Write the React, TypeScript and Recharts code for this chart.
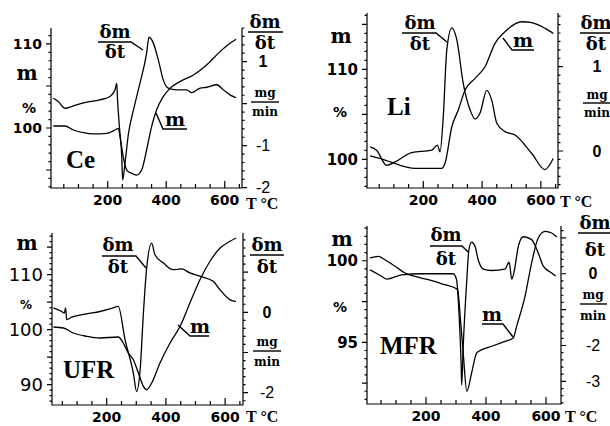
import React from 'react';
import { LineChart, Line, XAxis, YAxis } from 'recharts';

// ---- Ce ----
const ceDmT = [14, 31, 54, 83, 117, 174, 208, 225, 231, 233, 240, 248, 251, 259, 271, 288, 310, 333, 341, 356, 373, 390, 407, 436, 470, 487, 516, 538, 573, 595, 618, 639];
const ceDm = [0.13, 0.05, -0.11, -0.05, 0.02, 0.09, 0.17, 0.33, 0.48, 0.17, -0.55, -1.26, -1.82, -1.42, -0.71, -0.15, 0.48, 1.2, 1.58, 1.44, 1.04, 0.56, 0.37, 0.33, 0.33, 0.26, 0.37, 0.39, 0.45, 0.33, 0.21, 0.14];
const ceMT = [14, 54, 83, 117, 151, 197, 225, 236, 244, 253, 265, 282, 299, 316, 333, 350, 367, 390, 413, 447, 493, 538, 584, 618, 639];
const ceM = [100.24, 100.24, 99.76, 99.44, 99.29, 99.37, 99.76, 99.96, 98.57, 96.59, 95.0, 94.6, 94.4, 95.0, 97.38, 100.16, 102.14, 103.73, 104.72, 105.52, 106.31, 107.5, 109.09, 110.08, 110.56];

// ---- Li ----
const liDmT = [19, 41, 75, 104, 160, 229, 248, 257, 268, 280, 297, 314, 336, 359, 376, 393, 416, 433, 450, 478, 512, 569, 614, 642];
const liDm = [0.05, 0.01, -0.17, -0.13, -0.02, 0.01, 0.07, -0.01, 0.41, 1.2, 1.46, 1.32, 0.8, 0.49, 0.38, 0.45, 0.72, 0.6, 0.33, 0.23, 0.19, -0.03, -0.22, -0.09];
const liMT = [19, 70, 138, 172, 263, 274, 297, 319, 342, 376, 410, 444, 478, 535, 569, 614, 642];
const liM = [100.37, 99.92, 99.18, 99.0, 99.0, 99.56, 103.62, 105.48, 107.7, 109.0, 110.29, 112.89, 114.18, 115.29, 115.18, 114.55, 114.0];

// ---- UFR ----
const ufrDmT = [20, 48, 57, 61, 65, 82, 132, 177, 222, 239, 262, 290, 301, 313, 324, 335, 352, 363, 391, 425, 453, 481, 515, 560, 583, 617, 637];
const ufrDm = [0.11, 0.02, -0.02, 0.11, -0.18, -0.12, -0.04, 0.02, 0.11, 0.15, -0.68, -1.51, -1.97, -1.43, -0.02, 1.1, 1.72, 1.43, 1.23, 1.06, 1.08, 0.98, 0.9, 0.77, 0.56, 0.31, 0.27];
const ufrMT = [20, 54, 87, 132, 177, 239, 256, 273, 290, 307, 324, 335, 352, 380, 414, 448, 481, 515, 549, 583, 617, 637];
const ufrM = [100.49, 100.31, 99.4, 98.8, 98.49, 98.67, 97.58, 95.76, 94.55, 92.13, 89.71, 89.09, 90.31, 93.95, 97.58, 100.62, 104.85, 109.09, 112.44, 114.85, 116.07, 116.67];

// ---- MFR ----
const mfrDmT = [13, 52, 69, 119, 186, 291, 302, 310, 317, 319, 324, 336, 343, 352, 363, 374, 391, 419, 463, 477, 486, 494, 508, 524, 552, 574, 591, 619, 632];
const mfrDm = [0.11, -0.07, -0.15, -0.03, 0, 0, -0.17, -1.1, -2.49, -3.1, -2.03, -0.17, 0.67, 0.88, 0.77, 0.39, 0.13, 0.09, 0.13, 0.32, -0.15, 0.07, 0.77, 1.03, 0.95, 0.58, 0.21, 0.02, -0.06];
const mfrMT = [13, 41, 63, 97, 130, 163, 208, 263, 297, 306, 313, 324, 336, 352, 369, 386, 419, 463, 491, 502, 530, 552, 574, 597, 619, 636];
const mfrM = [100.17, 100.27, 100.06, 99.66, 99.25, 99.04, 98.84, 98.53, 98.33, 98.19, 96.8, 94.35, 92.0, 93.12, 94.35, 94.55, 94.76, 95.06, 95.27, 95.98, 97.82, 99.86, 101.39, 101.8, 101.7, 101.45];

// axis ticks
const xTicks = [50, 100, 150, 200, 250, 300, 350, 400, 450, 500, 550, 600, 650];
const xLabels = [200, 400, 600];

const SERIF = '"DejaVu Serif", serif';
const TIMES = '"Liberation Serif", serif';
const SANS = '"DejaVu Sans", sans-serif';
const ARIAL = '"Liberation Sans", sans-serif';
const PH = 222; // panel svg height (quadrant is 213, labels hang below)

const zip = (ts: number[], vs: number[]) => ts.map((t, i) => ({ t, v: vs[i] }));
const steps = (a: number, b: number, s: number) => {
  const out: number[] = [];
  for (let v = a; v <= b + 1e-9; v += s) out.push(Math.round(v * 1000) / 1000);
  return out;
};
const has = (arr: number[], v: number) => arr.some((a) => Math.abs(a - v) < 1e-6);

// panel layouts (plot box inside each 305x213 quadrant) and axis setup
const panels = [
  {
    key: 'ce', left: 0, top: 0, x0: 51, x1: 242, y0: 28, y1: 188,
    xDom: [6.2, 659], mDom: [92.86, 111.9], dmDom: [-2.007, 1.8],
    mData: zip(ceMT, ceM), dmData: zip(ceDmT, ceDm),
    mTicks: steps(93, 111, 1), mMajors: [95, 100, 105, 110], mLabels: [100, 110], mSize: 14, mWeight: 'bold',
    dmTicks: steps(-2, 1.8, 0.2), dmMajors: [-2, -1, 0, 1], dmLabels: [-2, -1, 1], dx: 21,
  },
  {
    key: 'li', left: 305, top: 0, x0: 62, x1: 253, y0: 13, y1: 188,
    xDom: [8.5, 658.2], mDom: [96.81, 116.26], dmDom: [-0.439, 1.637],
    mData: zip(liMT, liM), dmData: zip(liDmT, liDm),
    mTicks: steps(97, 116, 1), mMajors: [100, 105, 110, 115], mLabels: [100, 110], mSize: 15, mWeight: 'bold',
    dmTicks: steps(-0.4, 1.6, 0.1), dmMajors: [0, 1], dmLabels: [0, 1], dx: 39,
  },
  {
    key: 'ufr', left: 0, top: 213, x0: 52, x1: 243, y0: 20, y1: 192,
    xDom: [15.2, 660.5], mDom: [86.31, 117.58], dmDom: [-2.306, 1.973],
    mData: zip(ufrMT, ufrM), dmData: zip(ufrDmT, ufrDm),
    mTicks: steps(87, 117, 1), mMajors: [90, 95, 100, 105, 110, 115], mLabels: [90, 100, 110], mSize: 18, mWeight: 'normal',
    dmTicks: steps(-2.2, 1.8, 0.2), dmMajors: [-2, -1, 0, 1], dmLabels: [-2, 0], dx: 24,
  },
  {
    key: 'mfr', left: 305, top: 213, x0: 62, x1: 256, y0: 13, y1: 191,
    xDom: [3.3, 650], mDom: [91.22, 102.13], dmDom: [-3.63, 1.33],
    mData: zip(mfrMT, mfrM), dmData: zip(mfrDmT, mfrDm),
    mTicks: steps(91.5, 102, 0.5), mMajors: [92.5, 95, 97.5, 100], mLabels: [95, 100], mSize: 15, mWeight: 'bold',
    dmTicks: steps(-3.6, 1.2, 0.2), dmMajors: [-3, -2, -1, 0, 1], dmLabels: [-3, -2, 0], dx: 32,
  },
];

// label-only tick renderers (the tick marks and axis frame are drawn in the frame layer)
const XTick = (p: any) => {
  const v = p.payload.value;
  if (!has(xLabels, v)) return <g />;
  return (
    <text x={p.x} y={p.y + 17} textAnchor="middle" fontFamily={SANS} fontWeight="bold" fontSize={14} fill="#000">
      {v}
    </text>
  );
};

const leftTick = (labels: number[], size: number, weight: string) => (p: any) => {
  const v = p.payload.value;
  if (!has(labels, v)) return <g />;
  return (
    <text x={p.x - 9} y={p.y} dy="0.36em" textAnchor="end" fontFamily={SANS} fontWeight={weight} fontSize={size} fill="#000">
      {v}
    </text>
  );
};

const rightTick = (labels: number[], dx: number) => (p: any) => {
  const v = p.payload.value;
  if (!has(labels, v)) return <g />;
  return (
    <text x={p.x + dx} y={p.y} dy="0.36em" textAnchor="middle" fontFamily={ARIAL} fontWeight={v >= 0 ? 'bold' : 'normal'} fontSize={16} fill="#000">
      {v}
    </text>
  );
};

function Panel({ cfg }: any) {
  const { left, top, x0, x1, y0, y1 } = cfg;
  return (
    <div style={{ position: 'absolute', left, top }}>
      <LineChart width={305} height={PH} margin={{ top: y0, right: 0, bottom: 0, left: 0 }}>
        <XAxis
          type="number"
          dataKey="t"
          domain={cfg.xDom}
          allowDataOverflow
          ticks={xTicks}
          interval={0}
          tick={XTick}
          tickLine={false}
          tickSize={0}
          tickMargin={0}
          height={PH - y1}
          axisLine={false}
        />
        <YAxis
          yAxisId="m"
          orientation="left"
          type="number"
          width={x0}
          domain={cfg.mDom}
          allowDataOverflow
          ticks={cfg.mTicks}
          interval={0}
          tick={leftTick(cfg.mLabels, cfg.mSize, cfg.mWeight)}
          tickLine={false}
          tickSize={0}
          tickMargin={0}
          axisLine={false}
        />
        <YAxis
          yAxisId="dm"
          orientation="right"
          type="number"
          width={305 - x1}
          domain={cfg.dmDom}
          allowDataOverflow
          ticks={cfg.dmTicks}
          interval={0}
          tick={rightTick(cfg.dmLabels, cfg.dx)}
          tickLine={false}
          tickSize={0}
          tickMargin={0}
          axisLine={false}
        />
        <Line yAxisId="m" data={cfg.mData} dataKey="v" type="monotone" stroke="#000" strokeWidth={1.3} dot={false} isAnimationActive={false} />
        <Line yAxisId="dm" data={cfg.dmData} dataKey="v" type="monotone" stroke="#000" strokeWidth={1.3} dot={false} isAnimationActive={false} />
      </LineChart>
    </div>
  );
}

// axis frame with major/minor tick marks, using the same linear mapping as the panel plot box
function Frame({ cfg }: any) {
  const { left, top, x0, x1, y0, y1 } = cfg;
  const L = left + x0, R = left + x1, TOP = top + y0, B = top + y1;
  const px = (v: number) => L + ((v - cfg.xDom[0]) / (cfg.xDom[1] - cfg.xDom[0])) * (R - L);
  const pm = (v: number) => TOP + ((cfg.mDom[1] - v) / (cfg.mDom[1] - cfg.mDom[0])) * (B - TOP);
  const pd = (v: number) => TOP + ((cfg.dmDom[1] - v) / (cfg.dmDom[1] - cfg.dmDom[0])) * (B - TOP);
  let d = `M${L},${TOP}V${B}H${R}V${TOP}`;
  xTicks.forEach((v) => {
    if (v < cfg.xDom[0] || v > cfg.xDom[1]) return;
    d += `M${px(v)},${B}V${B - (has(xLabels, v) ? 7 : 4)}`;
  });
  cfg.mTicks.forEach((v: number) => {
    d += `M${L},${pm(v)}H${L - (has(cfg.mMajors, v) ? 5 : 2.5)}`;
  });
  cfg.dmTicks.forEach((v: number) => {
    d += `M${R},${pd(v)}H${R + (has(cfg.dmMajors, v) ? 5 : 2.5)}`;
  });
  return <path d={d} stroke="#000" strokeWidth={1.2} fill="none" />;
}

const Frac = ({ cx, yNum, yBar, yDen, x0, x1, tail, num, den, size, font }: any) => (
  <g>
    <text x={cx} y={yNum} textAnchor="middle" fontFamily={font} fontWeight="bold" fontSize={size} fill="#000">{num}</text>
    <polyline points={`${x0},${yBar} ${x1},${yBar}${tail ? ` ${tail[0]},${tail[1]}` : ''}`} fill="none" stroke="#000" strokeWidth={1.4} />
    <text x={cx} y={yDen} textAnchor="middle" fontFamily={font} fontWeight="bold" fontSize={size} fill="#000">{den}</text>
  </g>
);

const Mlabel = ({ cx, y, u0, u1, lead }: any) => (
  <g>
    <text x={cx} y={y} textAnchor="middle" fontFamily={SERIF} fontWeight="bold" fontSize={19} fill="#000">m</text>
    <polyline points={`${lead[0]},${lead[1]} ${u0},${y + 3} ${u1},${y + 3}`} fill="none" stroke="#000" strokeWidth={1.4} />
  </g>
);

const Tx = ({ x, y, children, size = 14, font = SANS, weight = 'bold', anchor = 'middle' }: any) => (
  <text x={x} y={y} textAnchor={anchor} fontFamily={font} fontWeight={weight} fontSize={size} fill="#000">{children}</text>
);

function Annotations() {
  return (
    <svg width={610} height={426} style={{ position: 'absolute', left: 0, top: 0 }}>
      {panels.map((cfg) => <Frame key={cfg.key} cfg={cfg} />)}

      {/* Ce */}
      <Tx x={27} y={80} font={SERIF} size={20}>m</Tx>
      <Tx x={29} y={113}>%</Tx>
      <Tx x={66} y={168} font={TIMES} size={25} anchor="start">Ce</Tx>
      <Frac cx={115} yNum={38} yBar={42} yDen={58} x0={98} x1={131} tail={[143, 50]} num="δm" den="δt" size={18} font={SERIF} />
      <Mlabel cx={175} y={126} u0={163} u1={187} lead={[156, 113]} />
      <Frac cx={265} yNum={28} yBar={32} yDen={49} x0={248} x1={283} num="δm" den="δt" size={18} font={SERIF} />
      <Frac cx={265} yNum={97} yBar={102} yDen={116} x0={251} x1={279} num="mg" den="min" size={12} font={SERIF} />
      <Tx x={246} y={209} font={TIMES} size={16} anchor="start">T °C</Tx>

      {/* Li */}
      <Tx x={341} y={43} font={SERIF} size={20}>m</Tx>
      <Tx x={340} y={117}>%</Tx>
      <Tx x={387} y={115} font={TIMES} size={25} anchor="start">Li</Tx>
      <Frac cx={420} yNum={29} yBar={33} yDen={50} x0={402} x1={436} tail={[447, 42]} num="δm" den="δt" size={18} font={SERIF} />
      <Mlabel cx={523} y={47} u0={512} u1={534} lead={[503, 38]} />
      <Frac cx={596} yNum={29} yBar={33} yDen={50} x0={580} x1={615} num="δm" den="δt" size={18} font={SERIF} />
      <Frac cx={597} yNum={99} yBar={103} yDen={117} x0={583} x1={611} num="mg" den="min" size={12} font={SERIF} />
      <Tx x={560} y={207} font={TIMES} size={16} anchor="start">T °C</Tx>

      {/* UFR */}
      <Tx x={27} y={250} font={SERIF} size={20}>m</Tx>
      <Tx x={26} y={309} size={12}>%</Tx>
      <Tx x={63} y={378} font={TIMES} size={25} anchor="start">UFR</Tx>
      <Frac cx={118} yNum={251} yBar={256} yDen={273} x0={102} x1={136} tail={[146, 268]} num="δm" den="δt" size={18} font={SERIF} />
      <Mlabel cx={200} y={333} u0={190} u1={209} lead={[178, 325]} />
      <Frac cx={267} yNum={251} yBar={255} yDen={273} x0={250} x1={284} num="δm" den="δt" size={18} font={SERIF} />
      <Frac cx={267} yNum={346} yBar={351} yDen={366} x0={253} x1={281} num="mg" den="min" size={12} font={SERIF} />
      <Tx x={246} y={422} font={TIMES} size={16} anchor="start">T °C</Tx>

      {/* MFR */}
      <Tx x={342} y={246} font={SERIF} size={20}>m</Tx>
      <Tx x={340} y={312}>%</Tx>
      <Tx x={380} y={354} font={TIMES} size={25} anchor="start">MFR</Tx>
      <Frac cx={446} yNum={241} yBar={246} yDen={265} x0={430} x1={462} tail={[468, 252]} num="δm" den="δt" size={18} font={SERIF} />
      <g>
        <text x={492} y={321} textAnchor="middle" fontFamily={SERIF} fontWeight="bold" fontSize={19} fill="#000">m</text>
        <polyline points="482,324 503,324 513,337" fill="none" stroke="#000" strokeWidth={1.4} />
      </g>
      <Frac cx={595} yNum={229} yBar={233} yDen={256} x0={578} x1={612} num="δm" den="δt" size={18} font={SERIF} />
      <Frac cx={593} yNum={299} yBar={304} yDen={320} x0={580} x1={607} num="mg" den="min" size={12} font={SERIF} />
      <Tx x={565} y={422} font={TIMES} size={16} anchor="start">T °C</Tx>
    </svg>
  );
}

export default function App() {
  return (
    <div style={{ position: 'absolute', left: 0, top: 0, width: 610, height: 426, background: '#fff', overflow: 'hidden' }}>
      <Annotations />
      {panels.map((cfg) => (
        <Panel key={cfg.key} cfg={cfg} />
      ))}
    </div>
  );
}
